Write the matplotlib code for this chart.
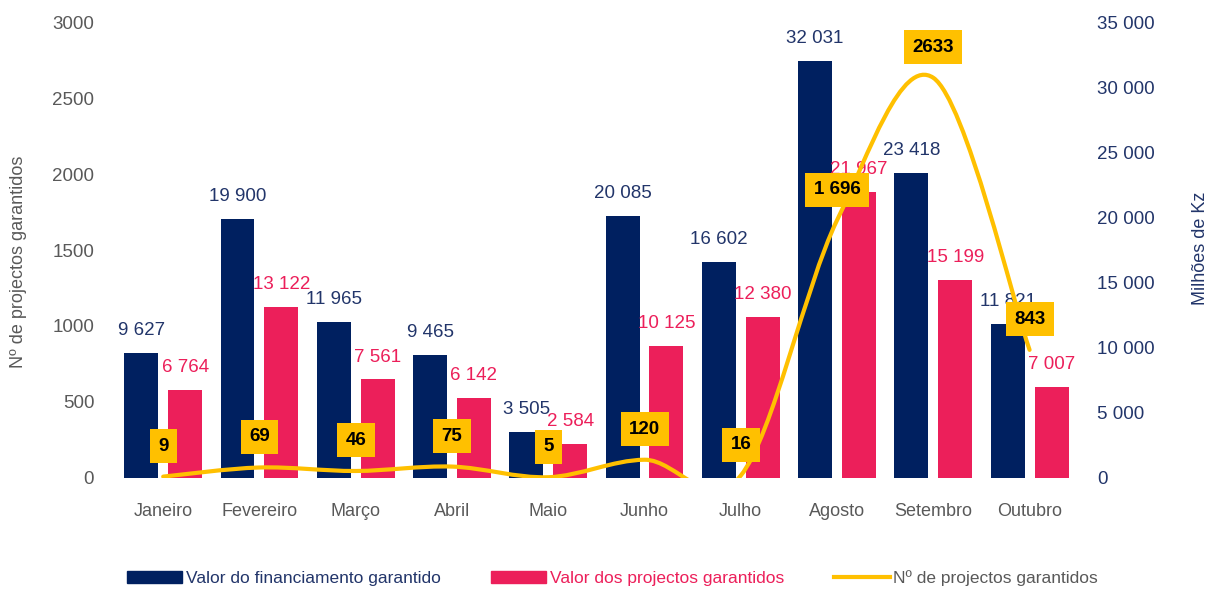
import matplotlib
matplotlib.use("Agg")
from matplotlib import pyplot as plt
from matplotlib.path import Path
from matplotlib.patches import PathPatch, Patch
from matplotlib.lines import Line2D
import numpy as np

plt.rcParams["font.family"] = ["Liberation Sans Narrow", "Liberation Sans", "DejaVu Sans"]

# Data
months = ["Janeiro", "Fevereiro", "Março", "Abril", "Maio", "Junho",
          "Julho", "Agosto", "Setembro", "Outubro"]
financiamento = [9627, 19900, 11965, 9465, 3505, 20085, 16602, 32031, 23418, 11821]
valor_projectos = [6764, 13122, 7561, 6142, 2584, 10125, 12380, 21967, 15199, 7007]
num_projectos = [9, 69, 46, 75, 5, 120, 16, 1696, 2633, 843]
num_labels = ["9", "69", "46", "75", "5", "120", "16", "1 696", "2633", "843"]

left_ticks = [0, 500, 1000, 1500, 2000, 2500, 3000]
right_ticks = [0, 5000, 10000, 15000, 20000, 25000, 30000, 35000]

navy = "#002060"
pink = "#EC1F5A"
gold = "#FFC000"
grey = "#595959"
navy_text = "#22356A"


def fmt(v):
    # thousands separated by a space
    return "{:,}".format(v).replace(",", " ")


def smooth_path(xs, ys):
    # smoothed line like a spreadsheet "smoothed line" (bezier through the points)
    pts = list(zip(xs, ys))
    verts = [pts[0]]
    codes = [Path.MOVETO]
    for i in range(len(pts) - 1):
        p0 = pts[max(i - 1, 0)]
        p1 = pts[i]
        p2 = pts[i + 1]
        p3 = pts[min(i + 2, len(pts) - 1)]
        c1 = (p1[0] + (p2[0] - p0[0]) / 6, p1[1] + (p2[1] - p0[1]) / 6)
        c2 = (p2[0] - (p3[0] - p1[0]) / 6, p2[1] - (p3[1] - p1[1]) / 6)
        verts += [c1, c2, p2]
        codes += [Path.CURVE4] * 3
    return Path(verts, codes)


fig = plt.figure(figsize=(12.15, 5.92), dpi=100)
ax = fig.add_axes([0.0947, 0.1926, 0.7923, 0.7702])
ax2 = ax.twinx()
# line axis on top of the bars
ax.set_zorder(ax2.get_zorder() + 1)
ax.patch.set_visible(False)

x = np.arange(len(months))
width = 0.353
off = 0.228

# bars on the right axis (Milhões de Kz)
ax2.bar(x - off, financiamento, width, color=navy)
ax2.bar(x + off, valor_projectos, width, color=pink)
for i in range(len(months)):
    ax2.annotate(fmt(financiamento[i]), (x[i] - off, financiamento[i]),
                 xytext=(0, 10), textcoords="offset points",
                 ha="center", va="bottom", fontsize=13.5, color=navy_text)
    ax2.annotate(fmt(valor_projectos[i]), (x[i] + off, valor_projectos[i]),
                 xytext=(0, 10), textcoords="offset points",
                 ha="center", va="bottom", fontsize=13.5, color=pink)

# smoothed line on the left axis
line = PathPatch(smooth_path(x, num_projectos), facecolor="none",
                 edgecolor=gold, linewidth=3, transform=ax.transData, capstyle="round")
ax.add_patch(line)
for i in range(len(months)):
    ax.annotate(num_labels[i], (x[i], num_projectos[i]),
                xytext=(0, 22), textcoords="offset points",
                ha="center", va="center", fontsize=13.5, fontweight="bold",
                color="black",
                bbox=dict(boxstyle="square,pad=0.45", facecolor=gold, edgecolor="none"))

ax.set_xlim(-0.5, len(months) - 0.5)
ax.set_ylim(0, 3000)
ax2.set_ylim(0, 35000)

ax.set_xticks(x, months)
ax.set_yticks(left_ticks, [str(t) for t in left_ticks])
ax2.set_yticks(right_ticks, [fmt(t) for t in right_ticks])

ax.tick_params(axis="x", length=0, pad=18, labelsize=13, labelcolor=grey)
ax.tick_params(axis="y", length=0, pad=15, labelsize=13.5, labelcolor=grey)
ax2.tick_params(axis="y", length=0, pad=14, labelsize=13.5, labelcolor=navy_text)

for a in (ax, ax2):
    for s in a.spines.values():
        s.set_visible(False)

fig.text(0.015, 0.557, "Nº de projectos garantidos", rotation=90,
         ha="center", va="center", fontsize=13, color=grey)
fig.text(0.988, 0.58, "Milhões de Kz", rotation=90,
         ha="center", va="center", fontsize=13, color=navy_text)

# legend
handles = [Patch(color=navy), Patch(color=pink), Line2D([], [], color=gold, linewidth=3)]
labels = ["Valor do financiamento garantido", "Valor dos projectos garantidos",
          "Nº de projectos garantidos"]
fig.legend(handles, labels, loc="center", bbox_to_anchor=(0.504, 0.024), ncol=3,
           frameon=False, fontsize=12.5, handlelength=3.2, handletextpad=0.2,
           columnspacing=2.9, labelcolor=[navy_text, pink, grey])

fig.savefig("out.png", dpi=100)
